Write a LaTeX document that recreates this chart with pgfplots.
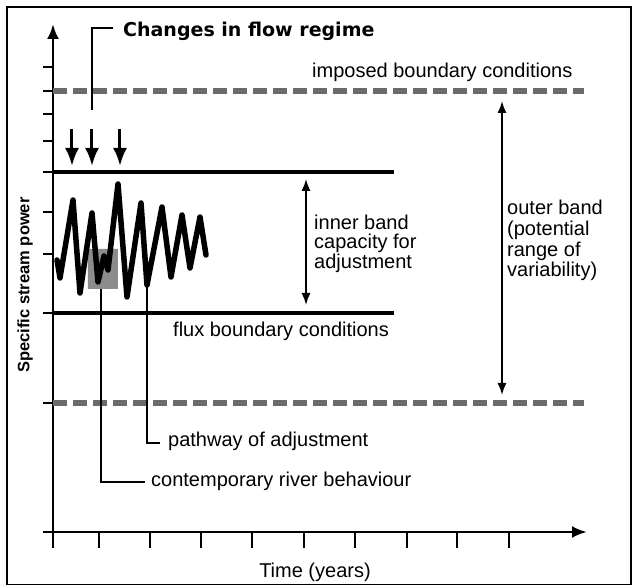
\documentclass[border=0pt]{standalone}
\usepackage{pgfplots}
\pgfplotsset{compat=1.18}
\usetikzlibrary{arrows.meta}
\usepackage{fontspec}
\setmainfont{Liberation Sans}
\newfontfamily\dejavu{DejaVu Sans}
\definecolor{dashgray}{HTML}{6A6A6A}
\definecolor{boxgray}{HTML}{8C8C8C}
\begin{document}
\begin{tikzpicture}
\begin{axis}[
  x=1pt, y=1pt,
  xmin=53, xmax=587, ymin=55, ymax=563,
  axis lines=left,
  every outer x axis line/.append style={line width=2.8pt, -{Latex[length=15pt,width=12pt]}},
  every outer y axis line/.append style={line width=2.8pt, -{Latex[length=15pt,width=12pt]}},
  tick align=outside,
  major tick length=10pt,
  xtick style={/pgfplots/major tick length=16pt},
  every tick/.style={black, line width=2.4pt},
  xtick={53,99,150,201,252,304,355,407,457,509},
  ytick={55,184,274,333,375,415,446,473,496,520},
  xticklabels={}, yticklabels={},
  clip=false,
  font=\fontsize{20}{24}\selectfont,
]
% bounding box and frame
\path (axis cs:0,0) rectangle (axis cs:633,587);
\draw[line width=1.5pt] (axis cs:7,2.5) rectangle (axis cs:631,580);

% outer band dashed boundaries
\addplot[dashgray, line width=5.5pt, dash pattern=on 14pt off 6pt] coordinates {(53,496) (584,496)};
\addplot[dashgray, line width=5.5pt, dash pattern=on 14pt off 6pt] coordinates {(53,184) (584,184)};
% inner band boundaries
\addplot[black, line width=3.4pt] coordinates {(53,415) (394,415)};
\addplot[black, line width=3.4pt] coordinates {(53,274) (394,274)};

% contemporary river behaviour box
\addplot[fill=boxgray, draw=none] coordinates {(88,298) (118,298) (118,338) (88,338) (88,298)};

% leaders
\addplot[black, line width=1.7pt] coordinates {(101,298) (101,105) (145,105)};
\addplot[black, line width=1.7pt] coordinates {(147,302) (147,144) (160,144)};
\addplot[black, line width=1.7pt] coordinates {(92,477) (92,559) (113,559)};

% pathway of adjustment
\addplot[black, line width=5.5pt, line join=round, line cap=round] coordinates {
(57,327) (60,309) (73,387) (80,294) (92,374) (98,305) (104,331) (108,317)
(118,403) (127,290) (141,384) (147,302) (162,380) (171,310) (182,372)
(190,319) (200,370) (206,332)};

% changes in flow regime arrows
\addplot[black, line width=3pt, -{Latex[length=18pt,width=14pt]}] coordinates {(72,458) (72,421)};
\addplot[black, line width=3pt, -{Latex[length=18pt,width=14pt]}] coordinates {(92,458) (92,421)};
\addplot[black, line width=3pt, -{Latex[length=18pt,width=14pt]}] coordinates {(120,458) (120,421)};

% band arrows
\addplot[black, line width=1.6pt, {Latex[length=12pt,width=9pt]}-{Latex[length=12pt,width=9pt]}] coordinates {(306,408) (306,282)};
\addplot[black, line width=1.6pt, {Latex[length=12pt,width=9pt]}-{Latex[length=12pt,width=9pt]}] coordinates {(502,486) (502,192)};

% texts
\node[anchor=base west, inner sep=0pt, font=\dejavu\bfseries\fontsize{19}{22}\selectfont] at (axis cs:123,550) {Changes in flow regime};
\node[anchor=base west, inner sep=0pt] at (axis cs:312,509) {imposed boundary conditions};
\node[anchor=base west, inner sep=0pt] at (axis cs:173,250) {flux boundary conditions};
\node[anchor=base west, inner sep=0pt] at (axis cs:168,140) {pathway of adjustment};
\node[anchor=base west, inner sep=0pt] at (axis cs:151,100) {contemporary river behaviour};
\node[anchor=base, inner sep=0pt] at (axis cs:315,9) {Time (years)};
\node[anchor=base west, inner sep=0pt] at (axis cs:314,357) {inner band};
\node[anchor=base west, inner sep=0pt] at (axis cs:314,338) {capacity for};
\node[anchor=base west, inner sep=0pt] at (axis cs:314,318) {adjustment};
\node[anchor=base west, inner sep=0pt] at (axis cs:507,372) {outer band};
\node[anchor=base west, inner sep=0pt] at (axis cs:507,351) {(potential};
\node[anchor=base west, inner sep=0pt] at (axis cs:507,330) {range of};
\node[anchor=base west, inner sep=0pt] at (axis cs:507,310) {variability)};
\node[rotate=90, inner sep=0pt, font=\bfseries\fontsize{16.5}{19}\selectfont] at (axis cs:25,302) {Specific stream power};
\end{axis}
\end{tikzpicture}
\end{document}
